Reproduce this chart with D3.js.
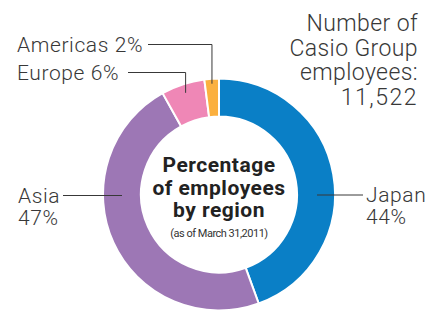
<!DOCTYPE html>
<html>
<head>
<meta charset="utf-8">
<script src="https://cdn.jsdelivr.net/npm/d3@7"></script>
<style>
  body { margin: 0; background: #fff; }
  svg { display: block; font-family: Roboto, "Noto Sans", sans-serif; }
</style>
</head>
<body>
<svg id="chart" width="430" height="310"></svg>
<script>
// regions clockwise from 12 o'clock
var regions = ["Japan", "Asia", "Europe", "Americas"];
var shares = [44, 47, 6, 2];
var shareLabels = ["44%", "47%", "6%", "2%"];
var colors = ["#0a7fc6", "#9d77b5", "#ef87b6", "#fbb03f"];
var totalLines = ["Number of", "Casio Group", "employees:", "11,522"];
var titleLines = ["Percentage", "of employees", "by region"];
var titleNote = "(as of March 31,2011)";

var cx = 219, cy = 194.5;
var outerR = 116, innerR = 78;
var ink = "#383838";

var svg = d3.select("#chart");

var pie = d3.pie().sort(null).value(function(d) { return d; });
var arc = d3.arc().innerRadius(innerR).outerRadius(outerR);
var arcs = pie(shares);

var g = svg.append("g").attr("transform", "translate(" + cx + "," + cy + ")");

g.selectAll("path")
    .data(arcs)
    .enter()
    .append("path")
    .attr("d", arc)
    .attr("fill", function(d, i) { return colors[i]; })
    .attr("stroke", "#fff")
    .attr("stroke-width", 2);

// point on a slice's mid angle at given radius
function midPoint(d, r) {
    var a = (d.startAngle + d.endAngle) / 2;
    return [cx + r * Math.sin(a), cy - r * Math.cos(a)];
}

var labelFont = 21;
var labelSpacing = 0.6;

// Americas and Europe: label on the upper left with an elbow line
var topLabels = [
    { i: 3, y: 51.5, lineY: 44.5, lineX0: 148, r: 111 },
    { i: 2, y: 80, lineY: 72.5, lineX0: 128, r: 107 }
];
topLabels.forEach(function(t) {
    var p = midPoint(arcs[t.i], t.r);
    svg.append("text")
        .attr("x", 17)
        .attr("y", t.y)
        .attr("fill", ink)
        .attr("font-size", labelFont)
        .attr("font-weight", 300)
        .attr("letter-spacing", labelSpacing)
        .text(regions[t.i] + " " + shareLabels[t.i]);
    svg.append("path")
        .attr("d", "M" + t.lineX0 + "," + t.lineY + "H" + p[0] + "V" + p[1])
        .attr("fill", "none")
        .attr("stroke", ink)
        .attr("stroke-width", 1);
});

// Asia on the left, Japan on the right
svg.append("path")
    .attr("d", "M63," + (cy + 1) + "H" + (cx - outerR + 19))
    .attr("stroke", ink).attr("stroke-width", 1);
svg.append("path")
    .attr("d", "M" + (cx + outerR - 18) + "," + (cy + 0.5) + "H363")
    .attr("stroke", ink).attr("stroke-width", 1);

var asia = svg.append("text").attr("fill", ink).attr("font-size", labelFont)
    .attr("font-weight", 300).attr("letter-spacing", labelSpacing);
asia.append("tspan").attr("x", 18).attr("y", 203).text(regions[1]);
asia.append("tspan").attr("x", 18).attr("y", 225).text(shareLabels[1]);

var japan = svg.append("text").attr("fill", ink).attr("font-size", labelFont)
    .attr("font-weight", 300).attr("letter-spacing", labelSpacing);
japan.append("tspan").attr("x", 366).attr("y", 202).text(regions[0]);
japan.append("tspan").attr("x", 366).attr("y", 224).text(shareLabels[0]);

// total employees, top right
svg.append("text")
    .attr("text-anchor", "end")
    .attr("fill", ink)
    .attr("font-size", 23)
    .attr("font-weight", 300)
    .selectAll("tspan")
    .data(totalLines)
    .enter()
    .append("tspan")
    .attr("x", 418)
    .attr("y", function(d, i) { return 31 + i * 24.5; })
    .attr("letter-spacing", function(d, i) { return i == 3 ? 1.5 : 0.4; })
    .text(function(d) { return d; });

// centre title
svg.append("text")
    .attr("text-anchor", "middle")
    .attr("fill", "#222")
    .attr("font-size", 21)
    .attr("font-weight", 700)
    .attr("letter-spacing", 0.5)
    .selectAll("tspan")
    .data(titleLines)
    .enter()
    .append("tspan")
    .attr("x", cx)
    .attr("y", function(d, i) { return 172 + i * 22.5; })
    .text(function(d) { return d; });

svg.append("text")
    .attr("x", cx)
    .attr("y", 237)
    .attr("text-anchor", "middle")
    .attr("fill", "#333")
    .attr("font-size", 11)
    .attr("letter-spacing", -0.5)
    .text(titleNote);
</script>
</body>
</html>
